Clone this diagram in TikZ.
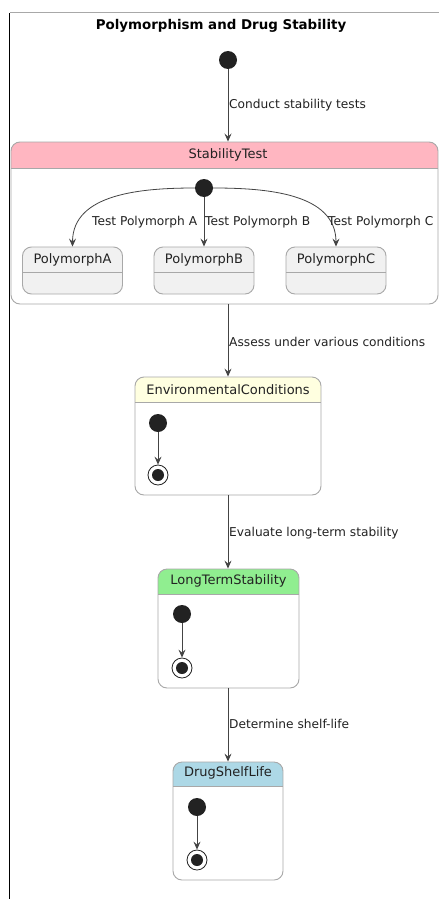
\documentclass[tikz,border=0pt]{standalone}
\usepackage{fontspec}
\setmainfont{DejaVu Sans}
\usetikzlibrary{arrows.meta}
\definecolor{bordc}{HTML}{A8A8A8}
\definecolor{linec}{HTML}{444444}
\definecolor{dotc}{HTML}{222222}
\definecolor{txtc}{HTML}{222222}
\definecolor{pinkc}{HTML}{FFB6C1}
\definecolor{yellowc}{HTML}{FFFFE0}
\definecolor{greenc}{HTML}{90EE90}
\definecolor{bluec}{HTML}{ADD8E6}
\definecolor{grayfill}{HTML}{F1F1F1}
\begin{document}
\begin{tikzpicture}[x=1pt,y=-1pt,
  sbox/.style 2 args={draw=bordc, line width=0.9pt, rounded corners=9pt, fill=white,
    inner sep=0pt, minimum width=#1, minimum height=#2},
  hdr/.style 2 args={path picture={
    \fill[#1, sharp corners] (path picture bounding box.north west) rectangle ([yshift=-#2]path picture bounding box.north east);
    \draw[bordc, line width=0.9pt, sharp corners] ([yshift=-#2]path picture bounding box.north west) -- ([yshift=-#2]path picture bounding box.north east);}},
  sname/.style={font=\fontsize{13}{15}\selectfont, text=txtc, inner sep=0pt},
  lbl/.style={font=\fontsize{12.2}{14}\selectfont, text=txtc, inner sep=0pt, anchor=west},
  startst/.style={circle, fill=dotc, minimum size=18pt, inner sep=0pt},
  endst/.style={circle, draw=dotc, line width=0.8pt, fill=white, minimum size=20pt, inner sep=0pt,
    path picture={\fill[dotc] (path picture bounding box.center) circle (6pt);}},
  arr/.style={draw=linec, line width=0.8pt, -{Stealth[length=8pt,width=7pt,inset=3pt]}}
]
\useasboundingbox (0,0) rectangle (439,899);
\fill[white] (0,0) rectangle (439,899);
\draw[black, line width=1pt] (9.5,899) -- (9.5,13);
\draw[bordc, line width=1pt] (9.5,13) -- (439,13);

\node[font=\bfseries\fontsize{13.4}{15}\selectfont, text=black, inner sep=0pt] (title) at (221,26) {Polymorphism and Drug Stability};

\node[startst] (start) at (228,60) {};

% StabilityTest composite
\node[sbox={427pt}{162pt}, hdr={pinkc}{26pt}] (st) at (224.5,223) {};
\node[sname] (stname) at (228,155) {StabilityTest};
\node[startst] (ststart) at (204,188) {};
\node[sbox={100pt}{47pt}, fill=grayfill, hdr={grayfill}{25pt}] (pa) at (72.5,270.5) {};
\node[sbox={100pt}{47pt}, fill=grayfill, hdr={grayfill}{25pt}] (pb) at (204,270.5) {};
\node[sbox={100pt}{47pt}, fill=grayfill, hdr={grayfill}{25pt}] (pc) at (336,270.5) {};
\node[sname] (paname) at (72.5,260) {PolymorphA};
\node[sname] (pbname) at (204,260) {PolymorphB};
\node[sname] (pcname) at (336,260) {PolymorphC};

% Environmental
\node[sbox={186pt}{118pt}, hdr={yellowc}{25pt}] (env) at (228,436) {};
\node[sname] (envname) at (228,390) {EnvironmentalConditions};
\node[startst] (envs) at (158,423) {};
\node[endst] (enve) at (158,475) {};

% LongTerm
\node[sbox={141pt}{119pt}, hdr={greenc}{25pt}] (lts) at (228.5,628.5) {};
\node[sname] (ltsname) at (228.5,581) {LongTermStability};
\node[startst] (ltss) at (182,614) {};
\node[endst] (ltse) at (182,668) {};

% DrugShelfLife
\node[sbox={110pt}{118pt}, hdr={bluec}{24pt}] (dsl) at (228,821) {};
\node[sname] (dslname) at (228,773) {DrugShelfLife};
\node[startst] (dsls) at (197,807) {};
\node[endst] (dsle) at (197,860) {};

% connectors
\draw[arr] (start) -- (start |- st.north);
\draw[arr] (ststart.west) to[out=180,in=90] (pa.north);
\draw[arr] (ststart) -- (pb.north);
\draw[arr] (ststart.east) to[out=0,in=90] (pc.north);
\draw[arr] (st.south -| env.north) -- (env.north);
\draw[arr] (env.south) -- (env.south |- lts.north);
\draw[arr] (lts.south -| dsl.north) -- (dsl.north);
\draw[arr] (envs) -- (enve);
\draw[arr] (ltss) -- (ltse);
\draw[arr] (dsls) -- (dsle);

% labels
\node[lbl] (l1) at (229,105) {Conduct stability tests};
\node[lbl] (la) at (92,222) {Test Polymorph A};
\node[lbl] (lb) at (205,222) {Test Polymorph B};
\node[lbl] (lc) at (328,222) {Test Polymorph C};
\node[lbl] (l2) at (229,342) {Assess under various conditions};
\node[lbl] (l3) at (229,533) {Evaluate long-term stability};
\node[lbl] (l4) at (229,724) {Determine shelf-life};
\end{tikzpicture}
\end{document}
